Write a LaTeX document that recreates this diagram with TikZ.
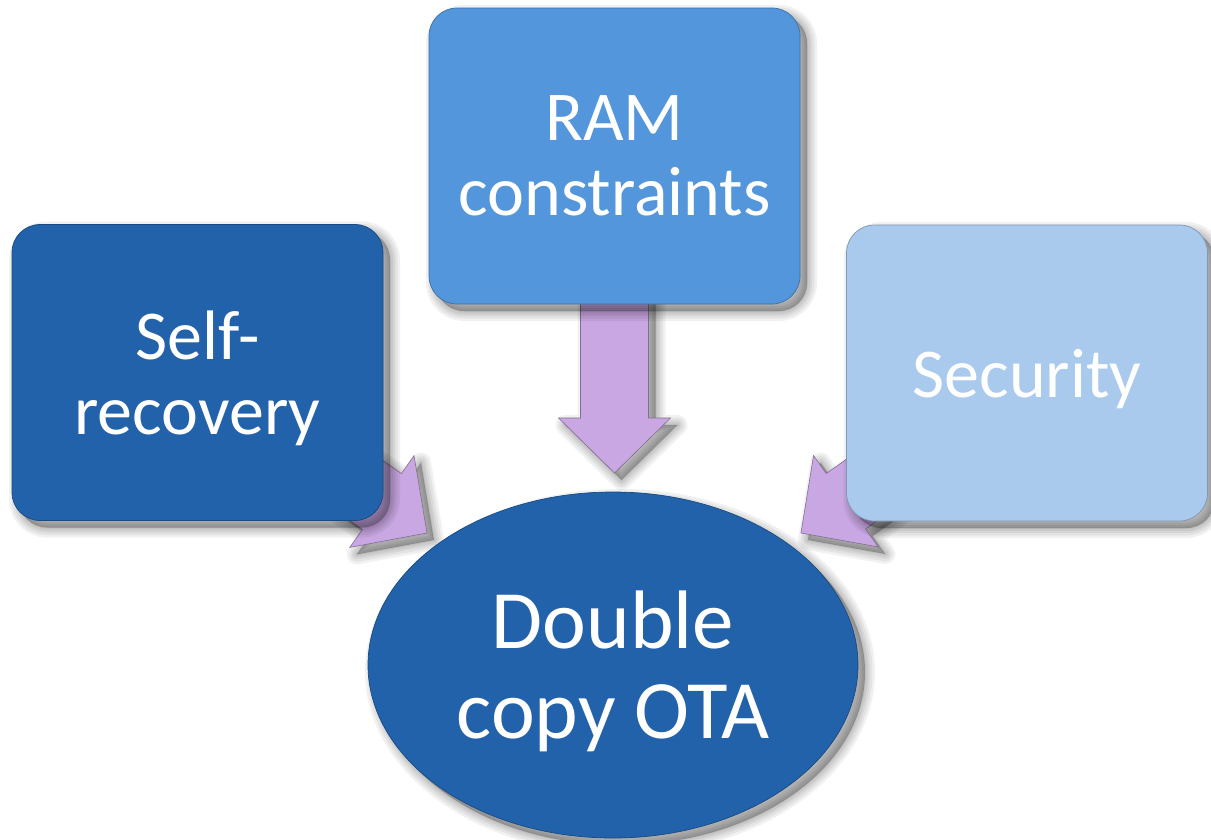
\documentclass[tikz,border=0pt]{standalone}
\usepackage{fontspec}
\setmainfont{Carlito}
\usetikzlibrary{shapes.geometric,calc}

\definecolor{deepblue}{RGB}{34,98,170}
\definecolor{midblue}{RGB}{84,150,219}
\definecolor{paleblue}{RGB}{169,201,237}
\definecolor{lilac}{RGB}{200,167,226}

\pgfdeclarelayer{paper}
\pgfdeclarelayer{arrows}
\pgfsetlayers{paper,arrows,main}

\tikzset{
  % soft drop shadow built from stacked translucent copies of the outline
  shadowstep/.style={preaction={draw=black, fill=black,
      draw opacity=0.055, fill opacity=0.055, line width=#1,
      line join=round, transform canvas={xshift=7pt, yshift=-7pt}}},
  softshadow/.style={shadowstep=20pt, shadowstep=15pt, shadowstep=10pt,
      shadowstep=6pt, shadowstep=2pt},
  topic/.style={rectangle, rounded corners=28pt, minimum height=296pt,
      inner sep=0pt, fill=#1, draw=#1!75!black, line width=0.7pt,
      text=white, align=center, text depth=0pt,
      font=\fontsize{70}{75}\selectfont, softshadow},
  goal/.style={ellipse, minimum width=490pt, minimum height=346pt,
      inner sep=0pt, fill=deepblue, draw=deepblue!75!black, line width=0.7pt,
      text=white, align=center, text depth=0pt,
      font=\fontsize{83}{90}\selectfont, softshadow},
  blockarrow/.style={fill=lilac, draw=lilac!65!black, line width=0.6pt,
      line join=miter, softshadow},
}

% broad block arrow from the centre of #1 to the point #2 (prefix #3)
\newcommand\fatarrow[3]{%
  \coordinate (#3m) at ($(#2)!55pt!(#1)$);
  \path[blockarrow]
    ($(#1)!34pt!90:(#2)$) -- ($(#3m)!34pt!90:(#2)$) --
    ($(#3m)!56pt!90:(#2)$) -- (#2) --
    ($(#3m)!56pt!-90:(#2)$) -- ($(#3m)!34pt!-90:(#2)$) --
    ($(#1)!34pt!-90:(#2)$) -- cycle;
}

\begin{document}
\begin{tikzpicture}[x=1pt, y=-1pt]
  \useasboundingbox (0,0) rectangle (1211,839);
  \begin{pgfonlayer}{paper}
    \fill[white] (0,0) rectangle (1211,839);
  \end{pgfonlayer}

  % the three requirements and the chosen approach
  \node[topic=deepblue, minimum width=371pt] (selfrec) at (197.5,372.5) {Self-\\recovery};
  \node[topic=midblue, minimum width=371pt] (ram) at (614.5,156) {RAM\\constraints};
  \node[topic=paleblue, minimum width=361pt] (sec) at (1027,373) {Security};
  \node[goal] (ota) at (613,665) {Double\\copy OTA};

  % arrow tips just short of the ellipse
  \coordinate (tipL) at (427,533);
  \coordinate (tipM) at (614.5,473);
  \coordinate (tipR) at (801,533);

  \begin{pgfonlayer}{arrows}
    \fatarrow{selfrec}{tipL}{aL}
    \fatarrow{ram}{tipM}{aM}
    \fatarrow{sec}{tipR}{aR}
  \end{pgfonlayer}
\end{tikzpicture}
\end{document}
